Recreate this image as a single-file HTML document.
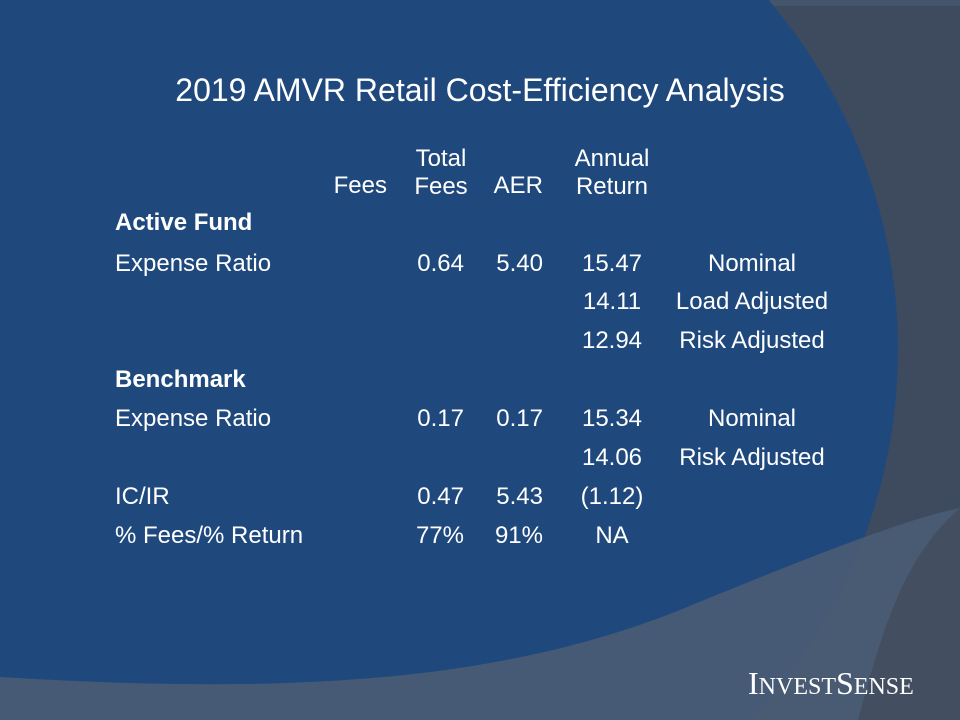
<!DOCTYPE html>
<html><head><style>
html,body{margin:0;width:960px;height:720px;overflow:hidden;background:#3a4a60;font-family:"Liberation Sans",sans-serif;}
svg{position:absolute;left:0;top:0}
.t{position:absolute;color:#fff;font-size:24px;white-space:nowrap;line-height:1}
</style></head><body>
<svg width="960" height="720">
<rect width="960" height="720" fill="#3e4b5e"/>
<rect x="770" y="0" width="190" height="6" fill="#44546b"/>
<circle cx="360" cy="350" r="538" fill="#1f497d"/>
<path d="M0,677 C250,692 480,690 680,610 C790,565 900,520 960,508 L960,720 L0,720 Z" fill="#4a5c75" opacity="0.9"/>
<path d="M960,508 C900,560 880,640 858,720 L960,720 Z" fill="#434f60"/>
</svg>
<div class="t" style="left:0;width:960px;text-align:center;top:74px;font-size:32px">2019 AMVR Retail Cost-Efficiency Analysis</div>
<div class="t" style="left:300px;width:87px;text-align:right;top:174px">Fees</div>
<div class="t" style="left:390px;width:102px;text-align:center;top:145px;line-height:28px">Total<br>Fees</div>
<div class="t" style="left:470px;width:73px;text-align:right;top:174px">AER</div>
<div class="t" style="left:552px;width:120px;text-align:center;top:145px;line-height:28px">Annual<br>Return</div>
<div class="t" style="left:115px;top:211px;font-weight:bold">Active Fund</div>
<div class="t" style="left:115px;top:252px">Expense Ratio</div>
<div class="t" style="left:390px;width:74px;text-align:right;top:252px">0.64</div>
<div class="t" style="left:470px;width:73px;text-align:right;top:252px">5.40</div>
<div class="t" style="left:552px;width:120px;text-align:center;top:252px">15.47</div>
<div class="t" style="left:652px;width:200px;text-align:center;top:252px">Nominal</div>
<div class="t" style="left:552px;width:120px;text-align:center;top:290px">14.11</div>
<div class="t" style="left:652px;width:200px;text-align:center;top:290px">Load Adjusted</div>
<div class="t" style="left:552px;width:120px;text-align:center;top:329px">12.94</div>
<div class="t" style="left:652px;width:200px;text-align:center;top:329px">Risk Adjusted</div>
<div class="t" style="left:115px;top:368px;font-weight:bold">Benchmark</div>
<div class="t" style="left:115px;top:407px">Expense Ratio</div>
<div class="t" style="left:390px;width:74px;text-align:right;top:407px">0.17</div>
<div class="t" style="left:470px;width:73px;text-align:right;top:407px">0.17</div>
<div class="t" style="left:552px;width:120px;text-align:center;top:407px">15.34</div>
<div class="t" style="left:652px;width:200px;text-align:center;top:407px">Nominal</div>
<div class="t" style="left:552px;width:120px;text-align:center;top:446px">14.06</div>
<div class="t" style="left:652px;width:200px;text-align:center;top:446px">Risk Adjusted</div>
<div class="t" style="left:115px;top:485px">IC/IR</div>
<div class="t" style="left:390px;width:74px;text-align:right;top:485px">0.47</div>
<div class="t" style="left:470px;width:73px;text-align:right;top:485px">5.43</div>
<div class="t" style="left:552px;width:120px;text-align:center;top:485px">(1.12)</div>
<div class="t" style="left:115px;top:524px">% Fees/% Return</div>
<div class="t" style="left:390px;width:74px;text-align:right;top:524px">77%</div>
<div class="t" style="left:470px;width:73px;text-align:right;top:524px">91%</div>
<div class="t" style="left:552px;width:120px;text-align:center;top:524px">NA</div>
<div class="t" style="left:748px;top:667px;font-family:'Liberation Serif',serif;font-size:32px;height:32px">I<span style="font-size:24px">NVEST</span>S<span style="font-size:24px">ENSE</span></div>
</body></html>
